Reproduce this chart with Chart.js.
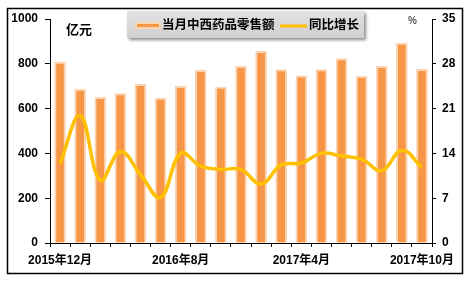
<!DOCTYPE html>
<html>
<head>
<meta charset="utf-8">
<script src="https://cdn.jsdelivr.net/npm/chart.js@4.4.0/dist/chart.umd.min.js"></script>
<style>
  html, body { margin: 0; padding: 0; background: #fff; }
  #wrap { position: relative; width: 469px; height: 283px; }
</style>
</head>
<body>
<div id="wrap"><canvas id="salesChart"></canvas></div>
<script>
// Months (Jan/Feb are reported together, so they are left out)
const months = [
  "2015年12月", "2016年3月", "2016年4月", "2016年5月", "2016年6月", "2016年7月",
  "2016年8月", "2016年9月", "2016年10月", "2016年11月", "2016年12月", "2017年3月",
  "2017年4月", "2017年5月", "2017年6月", "2017年7月", "2017年8月", "2017年9月",
  "2017年10月"
];
// 当月中西药品零售额 (亿元)
const salesValues = [808, 686, 650, 667, 708, 647, 699, 771, 696, 789, 856, 774, 746, 774, 823, 744, 789, 892, 775];
// 同比增长 (%)
const growthValues = [12.4, 19.9, 9.8, 14.3, 10.7, 7.1, 14.0, 12.0, 11.5, 11.5, 9.2, 12.2, 12.5, 14.0, 13.6, 13.1, 11.3, 14.5, 11.8];
const shownMonths = ["2015年12月", "2016年8月", "2017年4月", "2017年10月"];
const leftTicks = [0, 200, 400, 600, 800, 1000];
const rightTicks = [0, 7, 14, 21, 28, 35];

const seriesNames = ["当月中西药品零售额", "同比增长"];
const barFill = "#F79646";
const barEdge = "#FBD4B4";
const lineColor = "#FFC000";
const FONT = '"Liberation Sans", "Noto Sans CJK SC", Arial, sans-serif';

// frame, unit labels and legend box
const decorPlugin = {
  id: "decor",
  beforeDraw(chart) {
    const ctx = chart.ctx;
    ctx.save();
    ctx.fillStyle = "#fff";
    ctx.fillRect(0, 0, chart.width, chart.height);
    ctx.restore();
  },
  afterDraw(chart) {
    const ctx = chart.ctx;
    ctx.save();
    // outer frame
    ctx.strokeStyle = "#000";
    ctx.lineWidth = 1.5;
    ctx.strokeRect(7.5, 8.5, 455, 265);

    // units
    ctx.fillStyle = "#000";
    ctx.font = "bold 13px " + FONT;
    ctx.textBaseline = "middle";
    ctx.textAlign = "left";
    ctx.fillText("亿元", 66, 30);
    ctx.fillStyle = "#555";
    ctx.font = "bold 10px " + FONT;
    ctx.fillText("%", 408, 21);

    // legend box
    ctx.save();
    ctx.shadowColor = "rgba(0,0,0,0.45)";
    ctx.shadowOffsetX = 2;
    ctx.shadowOffsetY = 2;
    ctx.shadowBlur = 3;
    const g = ctx.createLinearGradient(0, 11, 0, 38);
    g.addColorStop(0, "#E2E2E2");
    g.addColorStop(1, "#CFCFCF");
    ctx.fillStyle = g;
    ctx.fillRect(127, 11, 237, 27);
    ctx.restore();

    // bar swatch
    ctx.fillStyle = barEdge;
    ctx.fillRect(135, 22, 26, 7);
    ctx.fillStyle = barFill;
    ctx.fillRect(137, 24, 22, 3);
    ctx.fillStyle = "#000";
    ctx.font = "bold 12.5px " + FONT;
    ctx.fillText(seriesNames[0], 162, 25.5);

    // line swatch
    ctx.strokeStyle = lineColor;
    ctx.lineWidth = 3;
    ctx.beginPath();
    ctx.moveTo(280, 26);
    ctx.lineTo(307, 26);
    ctx.stroke();
    ctx.fillText(seriesNames[1], 309, 25.5);
    ctx.restore();
  }
};

const ctx = document.getElementById("salesChart").getContext("2d");
const salesChart = new Chart(ctx, {
  data: {
    labels: months,
    datasets: [
      {
        type: "line",
        label: seriesNames[1],
        data: growthValues,
        yAxisID: "yRight",
        borderColor: lineColor,
        borderWidth: 3.5,
        pointRadius: 0,
        tension: 0.4,
        order: 0,
      },
      {
        type: "bar",
        label: seriesNames[0],
        data: salesValues,
        yAxisID: "yLeft",
        backgroundColor: barFill,
        borderColor: barEdge,
        borderWidth: 2,
        barThickness: 11,
        order: 1,
      },
    ],
  },
  options: {
    responsive: true,
    maintainAspectRatio: false,
    animation: false,
    layout: { padding: { top: 19, left: 0, right: 0, bottom: 0 } },
    plugins: {
      legend: { display: false },
      tooltip: { enabled: false },
    },
    scales: {
      x: {
        offset: true,
        afterFit: (s) => { s.height = 40; },
        border: { display: true, color: "#000", width: 1 },
        grid: { offset: true, drawOnChartArea: false, drawTicks: true, tickLength: 4, color: "#000" },
        ticks: {
          autoSkip: false,
          maxRotation: 0,
          padding: 6,
          color: "#000",
          font: { family: FONT, size: 12, weight: "bold" },
          callback: function (val) {
            const lab = this.getLabelForValue(val);
            return shownMonths.includes(lab) ? lab : "";
          },
        },
      },
      yLeft: {
        position: "left",
        min: 0,
        max: 1000,
        afterFit: (s) => { s.width = 50; },
        afterBuildTicks: (s) => { s.ticks = leftTicks.map((v) => ({ value: v })); },
        border: { display: true, color: "#000", width: 1 },
        grid: { drawOnChartArea: false, drawTicks: true, tickLength: 5, color: "#000" },
        ticks: {
          padding: 7,
          color: "#000",
          font: { family: FONT, size: 12, weight: "bold" },
          callback: (v) => String(v),
        },
      },
      yRight: {
        position: "right",
        min: 0,
        max: 35,
        afterFit: (s) => { s.width = 37; },
        afterBuildTicks: (s) => { s.ticks = rightTicks.map((v) => ({ value: v })); },
        border: { display: true, color: "#000", width: 1 },
        grid: { drawOnChartArea: false, drawTicks: true, tickLength: 4, color: "#000" },
        ticks: {
          padding: 6,
          color: "#000",
          font: { family: FONT, size: 12, weight: "bold" },
          callback: (v) => String(v),
        },
      },
    },
  },
  plugins: [decorPlugin],
});
</script>
</body>
</html>
